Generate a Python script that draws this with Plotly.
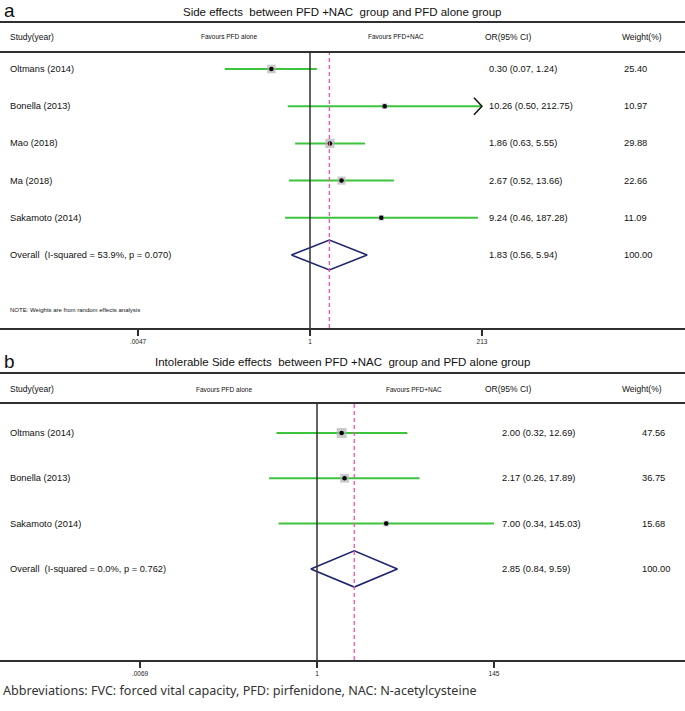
import math
import plotly.graph_objects as go

# ---------------- data ----------------
studies_a = ["Oltmans (2014)", "Bonella (2013)", "Mao (2018)", "Ma (2018)", "Sakamoto (2014)"]
or_a = [0.30, 10.26, 1.86, 2.67, 9.24]
lo_a = [0.07, 0.50, 0.63, 0.52, 0.46]
hi_a = [1.24, 212.75, 5.55, 13.66, 187.28]
w_a = [25.40, 10.97, 29.88, 22.66, 11.09]
arrow_a = [False, True, False, False, False]
overall_a = [1.83, 0.56, 5.94]
overall_label_a = "Overall  (I-squared = 53.9%, p = 0.070)"
ticks_a = [0.0047, 1, 213]
ticktext_a = [".0047", "1", "213"]
title_a = "Side effects  between PFD +NAC  group and PFD alone group"

studies_b = ["Oltmans (2014)", "Bonella (2013)", "Sakamoto (2014)"]
or_b = [2.00, 2.17, 7.00]
lo_b = [0.32, 0.26, 0.34]
hi_b = [12.69, 17.89, 145.03]
w_b = [47.56, 36.75, 15.68]
arrow_b = [False, False, False]
overall_b = [2.85, 0.84, 9.59]
overall_label_b = "Overall  (I-squared = 0.0%, p = 0.762)"
ticks_b = [0.0069, 1, 145]
ticktext_b = [".0069", "1", "145"]
title_b = "Intolerable Side effects  between PFD +NAC  group and PFD alone group"

header_cols = ["Study(year)", "Favours PFD alone", "Favours PFD+NAC", "OR(95% CI)", "Weight(%)"]
note_text = "NOTE: Weights are from random effects analysis"
footer_text = "Abbreviations: FVC: forced vital capacity, PFD: pirfenidone, NAC: N-acetylcysteine"

# ---------------- style ----------------
W, H = 685, 711
FONT = "Liberation Sans, Arial, sans-serif"
GREEN = "#3cc43c"
GRAY_BOX = "#b4b4b4"
NAVY = "#1f2470"
PINK = "#ff4fa3"
LINE = "#303030"


def py(p):
    return 1 - p / H


def px(p):
    return p / W


def nb(s):
    return s.replace("  ", "\u00a0\u00a0")


fig = go.Figure()
shapes = []
annotations = []

panels = [
    dict(studies=studies_a, orv=or_a, lo=lo_a, hi=hi_a, w=w_a, arrow=arrow_a,
         overall=overall_a, olabel=overall_label_a, ticks=ticks_a, ticktext=ticktext_a,
         title=title_a, letter="a", xa="x", ya="y", xname="xaxis", yname="yaxis",
         title_y=12, line1=22, header_y=37, line2=52, axis_y=328,
         row0=69, step=37.2, center=310, ppd=73.87, box_k=1.7,
         fav_l=229, fav_r=396, or_x=487, w_x=622, note=True),
    dict(studies=studies_b, orv=or_b, lo=lo_b, hi=hi_b, w=w_b, arrow=arrow_b,
         overall=overall_b, olabel=overall_label_b, ticks=ticks_b, ticktext=ticktext_b,
         title=title_b, letter="b", xa="x2", ya="y2", xname="xaxis2", yname="yaxis2",
         title_y=362, line1=373, header_y=389, line2=403, axis_y=660,
         row0=433, step=45.3, center=317, ppd=81.89, box_k=1.45,
         fav_l=224, fav_r=414, or_x=500, w_x=640, note=False),
]

for P in panels:
    n = len(P["studies"])
    rows = list(range(n))
    orow = n
    # x range so that 1 sits at P["center"] px
    xr = [-P["center"] / P["ppd"], (W - P["center"]) / P["ppd"]]
    yr_top = (P["line2"] - P["row0"]) / P["step"]
    yr_bot = (P["axis_y"] - P["row0"]) / P["step"]

    fig.layout[P["xname"]] = dict(
        type="log", domain=[0, 1], range=xr, anchor=P["ya"],
        showgrid=False, zeroline=False, showline=True, linewidth=2, linecolor=LINE,
        ticks="outside", ticklen=6, tickwidth=1.5, tickcolor=LINE,
        tickvals=P["ticks"], ticktext=P["ticktext"],
        tickfont=dict(family=FONT, size=6.5, color="#222"), fixedrange=True,
    )
    fig.layout[P["yname"]] = dict(
        domain=[py(P["axis_y"]), py(P["line2"])], range=[yr_bot, yr_top],
        anchor=P["xa"], showgrid=False, zeroline=False, showline=False,
        showticklabels=False, ticks="", fixedrange=True,
    )

    # vertical null line and overall dashed line
    shapes.append(dict(type="line", xref=P["xa"], yref=P["ya"] + " domain",
                       x0=1, x1=1, y0=0, y1=1, line=dict(color=LINE, width=1.5)))
    shapes.append(dict(type="line", xref=P["xa"], yref=P["ya"] + " domain",
                       x0=P["overall"][0], x1=P["overall"][0], y0=0, y1=1,
                       line=dict(color=PINK, width=1.3, dash="4px,3px")))
    # header lines
    for ly in (P["line1"], P["line2"]):
        shapes.append(dict(type="line", xref="paper", yref="paper", x0=0, x1=1,
                           y0=py(ly), y1=py(ly), line=dict(color=LINE, width=2)))

    # CI lines
    cx, cy = [], []
    for i in rows:
        cx += [P["lo"][i], P["hi"][i], None]
        cy += [i, i, None]
    fig.add_trace(go.Scatter(x=cx, y=cy, mode="lines", xaxis=P["xa"], yaxis=P["ya"],
                             line=dict(color=GREEN, width=2), hoverinfo="skip", showlegend=False))
    # arrows for clipped CIs
    ax, ay = [], []
    for i in rows:
        if P["arrow"][i]:
            back = P["hi"][i] / 10 ** (8 / P["ppd"])
            ax += [back, P["hi"][i], back, None]
            ay += [i - 0.23, i, i + 0.23, None]
    if ax:
        fig.add_trace(go.Scatter(x=ax, y=ay, mode="lines", xaxis=P["xa"], yaxis=P["ya"],
                                 line=dict(color="#111", width=1.5), hoverinfo="skip", showlegend=False))
    # weight boxes
    fig.add_trace(go.Scatter(x=P["orv"], y=rows, mode="markers", xaxis=P["xa"], yaxis=P["ya"],
                             marker=dict(symbol="square", color=GRAY_BOX,
                                         size=[P["box_k"] * math.sqrt(v) for v in P["w"]],
                                         line=dict(width=0)),
                             hoverinfo="skip", showlegend=False))
    fig.add_trace(go.Scatter(x=P["orv"], y=rows, mode="markers", xaxis=P["xa"], yaxis=P["ya"],
                             marker=dict(symbol="circle", color="black", size=4.5),
                             hoverinfo="skip", showlegend=False))
    # overall diamond
    o, olo, ohi = P["overall"]
    fig.add_trace(go.Scatter(x=[olo, o, ohi, o, olo], y=[orow, orow - 0.4, orow, orow + 0.4, orow],
                             mode="lines", xaxis=P["xa"], yaxis=P["ya"],
                             line=dict(color=NAVY, width=1.6), hoverinfo="skip", showlegend=False))

    # text
    annotations.append(dict(text=P["letter"], xref="paper", yref="paper", x=px(2), y=py(P["title_y"] - 1),
                            xanchor="left", yanchor="middle", showarrow=False,
                            font=dict(family=FONT, size=19, color="#111")))
    annotations.append(dict(text=nb(P["title"]), xref="paper", yref="paper", x=px(342), y=py(P["title_y"]),
                            xanchor="center", yanchor="middle", showarrow=False,
                            font=dict(family=FONT, size=11.5, color="#111")))
    hdr_pos = [(8, "left"), (P["fav_l"], "center"), (P["fav_r"], "center"), (483, "left"), (620, "left")]
    for (hx, anc), txt in zip(hdr_pos, header_cols):
        fs = 6.5 if "Favours" in txt else 8.5
        annotations.append(dict(text=txt, xref="paper", yref="paper", x=px(hx), y=py(P["header_y"]),
                                xanchor=anc, yanchor="middle", showarrow=False,
                                font=dict(family=FONT, size=fs, color="#111")))
    labels = P["studies"] + [P["olabel"]]
    ors = [f"{a:.2f} ({b:.2f}, {c:.2f})" for a, b, c in zip(P["orv"], P["lo"], P["hi"])]
    ors.append(f"{o:.2f} ({olo:.2f}, {ohi:.2f})")
    ws = [f"{v:.2f}" for v in P["w"]] + [f"{100:.2f}"]
    for r, (lab, ot, wt) in enumerate(zip(labels, ors, ws)):
        for tx, t in ((8, nb(lab)), (P["or_x"], ot), (P["w_x"], wt)):
            annotations.append(dict(text=t, xref="paper", yref=P["ya"], x=px(tx), y=r,
                                    xanchor="left", yanchor="middle", showarrow=False,
                                    font=dict(family=FONT, size=9.3, color="#111")))
    if P["note"]:
        annotations.append(dict(text=note_text, xref="paper", yref="paper", x=px(8), y=py(310),
                                xanchor="left", yanchor="middle", showarrow=False,
                                font=dict(family=FONT, size=6, color="#111")))

annotations.append(dict(text=footer_text, xref="paper", yref="paper", x=px(1), y=py(690),
                        xanchor="left", yanchor="middle", showarrow=False,
                        font=dict(family="Noto Sans, Open Sans, sans-serif", size=12.6, color="#333")))

fig.update_layout(width=W, height=H, margin=dict(l=0, r=0, t=0, b=0),
                  plot_bgcolor="white", paper_bgcolor="white",
                  shapes=shapes, annotations=annotations, showlegend=False)

fig.write_html("out.html", config={"displayModeBar": False},
               post_script="document.body.style.margin='0';document.body.style.overflow='hidden';")
